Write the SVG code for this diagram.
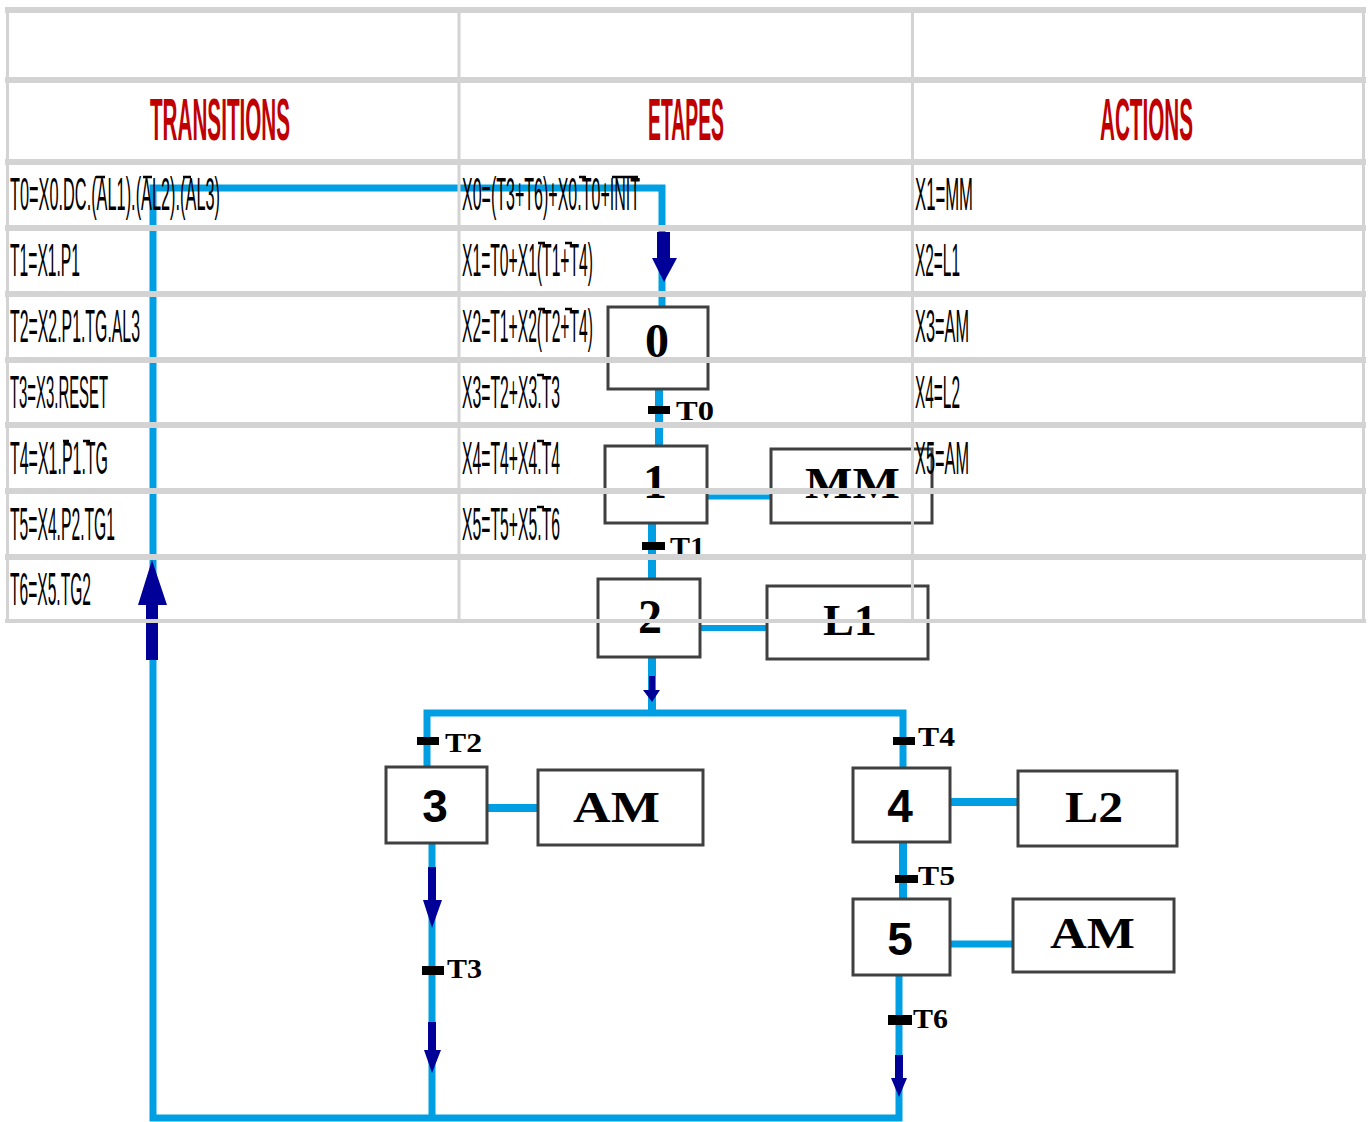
<svg xmlns="http://www.w3.org/2000/svg" width="1368" height="1122" viewBox="0 0 1368 1122">
<style>
.grid{stroke:#d3d3d3;fill:none}
.hd{font-family:"Liberation Sans",Arial,sans-serif;font-weight:bold;font-size:60px;fill:#c00000}
.tx{font-family:"Liberation Sans",Arial,sans-serif;font-size:46px;fill:#000}
.ob{stroke:#000;stroke-width:2.5;fill:none}
.wire{stroke:#009fe3;fill:none;stroke-linejoin:miter}
.arr{fill:#000099}
.box{fill:#fff;stroke:#404040;stroke-width:3}
.num{font-family:"Liberation Serif","Times New Roman",serif;font-weight:bold;font-size:48px;fill:#000;text-anchor:middle}
.nums{font-family:"Liberation Sans",Arial,sans-serif;font-weight:bold;font-size:46px;fill:#000;text-anchor:middle}
.act{font-family:"Liberation Serif","Times New Roman",serif;font-weight:bold;font-size:44px;fill:#000}
.bar{fill:#000}
.tl{font-family:"Liberation Serif","Times New Roman",serif;font-weight:bold;font-size:27px;fill:#000}
</style>
<rect x="0" y="0" width="1368" height="1122" fill="#fff"/>

<g id="connectors">
  <path class="wire" stroke-width="7" d="M899,975 V1118 H153 V188 H662 V307"/>
  <path class="wire" stroke-width="8" d="M659,389 V446"/>
  <path class="wire" stroke-width="5" d="M707,497 H772"/>
  <path class="wire" stroke-width="8" d="M652,523 V579"/>
  <path class="wire" stroke-width="6" d="M700,628 H767"/>
  <path class="wire" stroke-width="8" d="M652,657 V713"/>
  <path class="wire" stroke-width="7" d="M427,768 V713 H903 V768"/>
  <path class="wire" stroke-width="8" d="M487,808 H539"/>
  <path class="wire" stroke-width="7" d="M432,843 V1118"/>
  <path class="wire" stroke-width="8" d="M950,802 H1018"/>
  <path class="wire" stroke-width="8" d="M903,842 V899"/>
  <path class="wire" stroke-width="7" d="M950,944 H1013"/>
  <path class="arr" d="M657,232 H670 V258 H677 L664,282 L652,258 H657 Z"/>
  <path class="arr" d="M146,660 V605 H138 L152,560 L167,605 H158 V660 Z"/>
  <path class="arr" d="M649,676 H655 V690 H660 L652,702 L643,690 H649 Z"/>
  <path class="arr" d="M428,867 H436 V900 H442 L432,928 L423,900 H428 Z"/>
  <path class="arr" d="M428,1022 H436 V1050 H441 L432,1073 L424,1050 H428 Z"/>
  <path class="arr" d="M895,1055 H903 V1078 H907 L899,1097 L891,1078 H895 Z"/>
</g>

<g id="step0"><rect class="box" x="608" y="307" width="100" height="82"/><text class="num" x="657" y="357">0</text></g>
<g id="step1"><rect class="box" x="605" y="446" width="102" height="77"/><text class="num" x="655" y="498">1</text></g>
<g id="step2"><rect class="box" x="598" y="579" width="102" height="78"/><text class="num" x="650" y="633">2</text></g>
<g id="step3"><rect class="box" x="386" y="767" width="101" height="76"/><text class="nums" x="435" y="822">3</text></g>
<g id="step4"><rect class="box" x="853" y="768" width="97" height="74"/><text class="nums" x="900" y="822">4</text></g>
<g id="step5"><rect class="box" x="853" y="899" width="97" height="76"/><text class="nums" x="900" y="955">5</text></g>

<g id="action-MM"><rect class="box" x="771" y="449" width="161" height="74"/><text class="act" x="805" y="498" textLength="95" lengthAdjust="spacingAndGlyphs">MM</text></g>
<g id="action-L1"><rect class="box" x="767" y="586" width="161" height="73"/><text class="act" x="823" y="635" textLength="54" lengthAdjust="spacingAndGlyphs">L1</text></g>
<g id="action-AM3"><rect class="box" x="538" y="770" width="165" height="75"/><text class="act" x="573" y="822" textLength="87" lengthAdjust="spacingAndGlyphs">AM</text></g>
<g id="action-L2"><rect class="box" x="1018" y="771" width="159" height="75"/><text class="act" x="1065" y="822" textLength="58" lengthAdjust="spacingAndGlyphs">L2</text></g>
<g id="action-AM5"><rect class="box" x="1013" y="899" width="161" height="73"/><text class="act" x="1050" y="948" textLength="85" lengthAdjust="spacingAndGlyphs">AM</text></g>

<g id="tr-T0"><rect class="bar" x="648" y="406" width="22" height="8"/><text class="tl" x="676" y="420" textLength="38" lengthAdjust="spacingAndGlyphs">T0</text></g>
<g id="tr-T1"><rect class="bar" x="642" y="542" width="23" height="8"/><text class="tl" x="670" y="556" textLength="35" lengthAdjust="spacingAndGlyphs">T1</text></g>
<g id="tr-T2"><rect class="bar" x="417" y="737" width="22" height="8"/><text class="tl" x="445" y="752" textLength="37" lengthAdjust="spacingAndGlyphs">T2</text></g>
<g id="tr-T3"><rect class="bar" x="422" y="966" width="22" height="9"/><text class="tl" x="447" y="978" textLength="35" lengthAdjust="spacingAndGlyphs">T3</text></g>
<g id="tr-T4"><rect class="bar" x="893" y="737" width="22" height="8"/><text class="tl" x="918" y="746" textLength="37" lengthAdjust="spacingAndGlyphs">T4</text></g>
<g id="tr-T5"><rect class="bar" x="895" y="875" width="23" height="8"/><text class="tl" x="918" y="885" textLength="37" lengthAdjust="spacingAndGlyphs">T5</text></g>
<g id="tr-T6"><rect class="bar" x="888" y="1015" width="24" height="10"/><text class="tl" x="913" y="1028" textLength="35" lengthAdjust="spacingAndGlyphs">T6</text></g>

<g id="table">
  <g class="grid" stroke-width="6">
    <path d="M5,10 H1366"/>
    <path d="M5,80 H1366"/>
    <path d="M5,162 H1366"/>
    <path d="M5,228 H1366"/>
    <path d="M5,294 H1366"/>
    <path d="M5,360 H1366"/>
    <path d="M5,425 H1366"/>
    <path d="M5,491 H1366"/>
    <path d="M5,557 H1366"/>
    <path d="M5,621 H1366" stroke-width="4"/>
  </g>
  <g class="grid" stroke-width="3">
    <path d="M7.5,8 V622"/>
    <path d="M459,8 V622"/>
    <path d="M912.5,8 V622"/>
    <path d="M1363.5,8 V622"/>
  </g>
  <text class="hd" x="150" y="140" textLength="140" lengthAdjust="spacingAndGlyphs">TRANSITIONS</text>
  <text class="hd" x="648" y="140" textLength="76" lengthAdjust="spacingAndGlyphs">ETAPES</text>
  <text class="hd" x="1100" y="140" textLength="93" lengthAdjust="spacingAndGlyphs">ACTIONS</text>

  <text class="tx" x="10" y="210" textLength="210" lengthAdjust="spacingAndGlyphs">T0=X0.DC.(AL1).(AL2).(AL3)</text>
  <text class="tx" x="10" y="276" textLength="70" lengthAdjust="spacingAndGlyphs">T1=X1.P1</text>
  <text class="tx" x="10" y="342" textLength="130" lengthAdjust="spacingAndGlyphs">T2=X2.P1.TG.AL3</text>
  <text class="tx" x="10" y="408" textLength="98" lengthAdjust="spacingAndGlyphs">T3=X3.RESET</text>
  <text class="tx" x="10" y="474" textLength="98" lengthAdjust="spacingAndGlyphs">T4=X1.P1.TG</text>
  <text class="tx" x="10" y="540" textLength="105" lengthAdjust="spacingAndGlyphs">T5=X4.P2.TG1</text>
  <text class="tx" x="10" y="605" textLength="81" lengthAdjust="spacingAndGlyphs">T6=X5.TG2</text>

  <text class="tx" x="462" y="210" textLength="178" lengthAdjust="spacingAndGlyphs">X0=(T3+T6)+X0.T0+INIT</text>
  <text class="tx" x="462" y="276" textLength="131" lengthAdjust="spacingAndGlyphs">X1=T0+X1(T1+T4)</text>
  <text class="tx" x="462" y="342" textLength="131" lengthAdjust="spacingAndGlyphs">X2=T1+X2(T2+T4)</text>
  <text class="tx" x="462" y="408" textLength="98" lengthAdjust="spacingAndGlyphs">X3=T2+X3.T3</text>
  <text class="tx" x="462" y="474" textLength="98" lengthAdjust="spacingAndGlyphs">X4=T4+X4.T4</text>
  <text class="tx" x="462" y="540" textLength="98" lengthAdjust="spacingAndGlyphs">X5=T5+X5.T6</text>

  <text class="tx" x="915" y="210" textLength="58" lengthAdjust="spacingAndGlyphs">X1=MM</text>
  <text class="tx" x="915" y="276" textLength="45" lengthAdjust="spacingAndGlyphs">X2=L1</text>
  <text class="tx" x="915" y="342" textLength="54" lengthAdjust="spacingAndGlyphs">X3=AM</text>
  <text class="tx" x="915" y="408" textLength="45" lengthAdjust="spacingAndGlyphs">X4=L2</text>
  <text class="tx" x="915" y="474" textLength="54" lengthAdjust="spacingAndGlyphs">X5=AM</text>

  <g id="overbars" class="ob">
    <path d="M96,177 H105 M143,177 H152 M183,177 H191"/>
    <path d="M63,441 H69 M83,441 H90"/>
    <path d="M579,177 H586 M612,177 H638"/>
    <path d="M538,243 H545 M565,243 H572"/>
    <path d="M538,309 H545 M565,309 H572"/>
    <path d="M537,375 H544"/>
    <path d="M537,441 H544"/>
    <path d="M537,507 H544"/>
  </g>
</g>
</svg>
